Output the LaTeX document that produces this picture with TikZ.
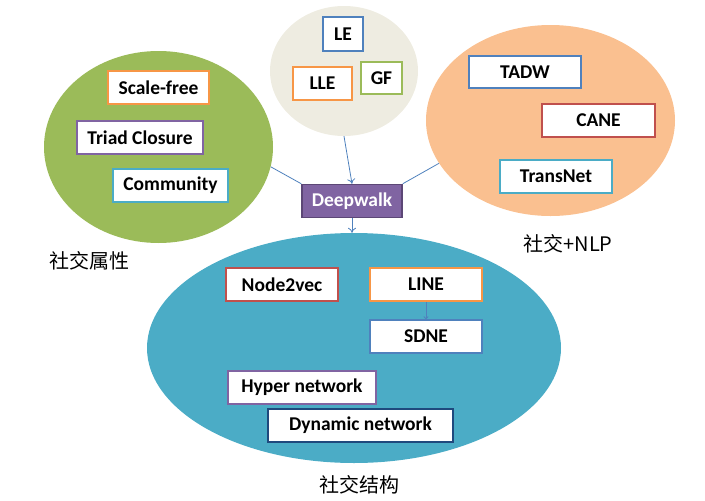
\documentclass[tikz,border=0pt]{standalone}
\usepackage{fontspec}
\setmainfont{Carlito}
\newfontfamily\cjkfont{Noto Sans CJK SC}
\usepackage{xcolor}
\usepackage{tikz}
\usetikzlibrary{arrows.meta, shapes.geometric}
\definecolor{socgreen}{HTML}{9BBB59}
\definecolor{socbeige}{HTML}{EEECE1}
\definecolor{socorange}{HTML}{FAC090}
\definecolor{soccyan}{HTML}{4BACC6}
\definecolor{edgeblue}{HTML}{4F81BD}
\definecolor{edgeorange}{HTML}{F79646}
\definecolor{edgepurple}{HTML}{8064A2}
\definecolor{edgered}{HTML}{C0504D}
\definecolor{edgenavy}{HTML}{1F497D}
\definecolor{walkdark}{HTML}{5C4776}

\begin{document}
\begin{tikzpicture}[x=1pt, y=-1pt,
    blob/.style={ellipse, inner sep=0pt},
    box/.style={draw, fill=white, line width=1.5pt, minimum height=33pt,
      inner sep=0pt, font=\fontsize{19.5}{22}\selectfont\bfseries},
    link/.style={draw=edgeblue, line width=0.8pt},
    tag/.style={font=\cjkfont\fontsize{20}{24}\selectfont}]
    \useasboundingbox (0,0) rectangle (705,501);
    % Clusters
    \node[blob, fill=socgreen, minimum width=229pt, minimum height=192pt]
      (attr) at (158.5,147) {};
    \node[blob, fill=socbeige, minimum width=148pt, minimum height=130pt]
      (spec) at (344,71) {};
    \node[blob, fill=socorange, minimum width=249pt, minimum height=191pt]
      (nlp) at (550.5,120.5) {};
    \node[blob, fill=soccyan, minimum width=414pt, minimum height=230pt]
      (struct) at (354,348) {};
    % Deepwalk hub
    \node[box, fill=edgepurple, draw=walkdark, text=white, minimum width=100pt]
      (dw) at (352,201) {Deepwalk};
    % Links to the hub
    \draw[link] (attr.-10) -- (dw.north west);
    \draw[link, -{To[length=5pt,width=8pt]}] (spec.south) -- (dw.north);
    \draw[link] (nlp.201) -- (dw.north east);
    \draw[link, -{To[length=5pt,width=8pt]}] (dw.south) -- (dw.south |- struct.north);
    % Social attributes
    \node[box, draw=edgeorange, minimum width=101pt] (scale) at (158.5,87.5) {Scale-free};
    \node[box, draw=edgepurple, minimum width=126pt] (triad) at (140,137.5) {Triad Closure};
    \node[box, draw=soccyan, minimum width=115pt] (comm) at (170.5,185.5) {Community};
    % Spectral methods
    \node[box, draw=edgeblue, minimum width=40pt, minimum height=34pt] (le) at (343,34) {LE};
    \node[box, draw=edgeorange, minimum width=59pt] (lle) at (322.5,83.5) {LLE};
    \node[box, draw=socgreen, minimum width=41pt, minimum height=32pt] (gf) at (381.5,78) {GF};
    % Text based
    \node[box, draw=edgeblue, minimum width=112pt, minimum height=32pt] (tadw) at (525,72) {TADW};
    \node[box, draw=edgered, minimum width=113pt] (cane) at (598.5,120.5) {CANE};
    \node[box, draw=soccyan, minimum width=112pt] (trans) at (556,176.5) {TransNet};
    % Structure based
    \node[box, draw=edgered, minimum width=112pt] (n2v) at (282,284.5) {Node2vec};
    \node[box, draw=edgeorange, minimum width=112pt] (line) at (426,284.5) {LINE};
    \node[box, draw=edgeblue, minimum width=112pt] (sdne) at (426,336.5) {SDNE};
    \node[box, draw=edgepurple, minimum width=148pt] (hyper) at (302,387.5) {Hyper network};
    \node[box, draw=edgenavy, minimum width=185pt] (dyn) at (360.5,425.5) {Dynamic network};
    \draw[link, -{To[length=3pt,width=5pt]}] (line.south) -- (sdne.north);
    % Cluster names
    \node[tag] (attrname) at (89,261) {社交属性};
    \node[tag] (nlpname) at (568,244) {社交+NLP};
    \node[tag] (structname) at (359,485) {社交结构};
\end{tikzpicture}
\end{document}
